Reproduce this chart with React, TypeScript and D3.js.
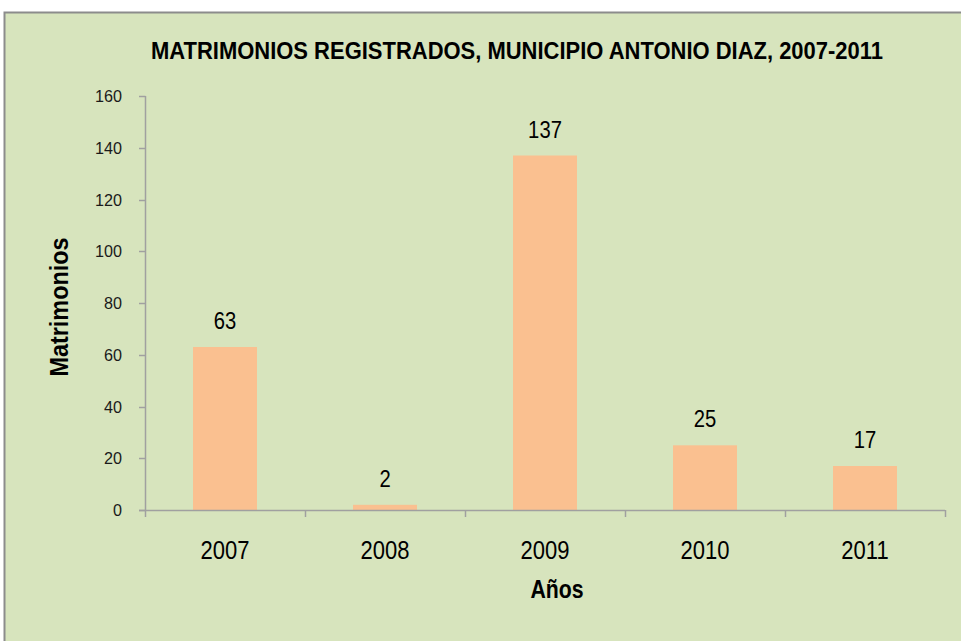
import React, { useEffect, useRef } from 'react'
import * as d3 from 'd3'

const years = ['2007', '2008', '2009', '2010', '2011']
const matrimonios = [63, 2, 137, 25, 17]
const yTicks = [0, 20, 40, 60, 80, 100, 120, 140, 160]

const title = 'MATRIMONIOS REGISTRADOS, MUNICIPIO ANTONIO DIAZ, 2007-2011'
const font = '"Liberation Sans", Arial, sans-serif'

const W = 961
const H = 641

// condensed text: squeeze horizontally like Arial Narrow
function label (parent: any, x: number, y: number, txt: string | number, size: number, sx: number, opts: any = {}) {
  const g = parent.append('g')
    .attr('transform', 'translate(' + x + ',' + y + ')' + (opts.rotate ? ' rotate(' + opts.rotate + ')' : '') + ' scale(' + sx + ',1)')
  return g.append('text')
    .attr('text-anchor', opts.anchor || 'middle')
    .attr('dy', opts.dy || null)
    .attr('font-family', font)
    .attr('font-weight', opts.bold ? 'bold' : 'normal')
    .attr('font-size', size)
    .attr('fill', opts.fill || '#000')
    .text(txt)
}

export default function App () {
  const ref = useRef<SVGSVGElement>(null)

  useEffect(() => {
    const svg = d3.select(ref.current)
    svg.selectAll('*').remove()

    svg.append('rect')
      .attr('x', 4.5).attr('y', 12.5)
      .attr('width', 980).attr('height', 660)
      .attr('fill', '#d7e4bd')
      .attr('stroke', '#8c8c8c')
      .attr('stroke-width', 2)

    svg.append('text')
      .attr('x', 517).attr('y', 59)
      .attr('text-anchor', 'middle')
      .attr('font-family', font)
      .attr('font-weight', 'bold')
      .attr('font-size', 24)
      .attr('textLength', 732)
      .attr('lengthAdjust', 'spacingAndGlyphs')
      .text(title)

    const x = d3.scaleBand().domain(years).range([145, 945]).padding(0)
    const y = d3.scaleLinear().domain([0, 160]).range([510, 96])

    const g = svg.append('g')
    const barW = x.bandwidth() * 0.4
    g.selectAll('.bar')
      .data(matrimonios)
      .enter().append('rect')
      .attr('class', 'bar')
      .attr('x', (d, i) => x(years[i])! + (x.bandwidth() - barW) / 2)
      .attr('y', d => y(d))
      .attr('width', barW)
      .attr('height', d => y(0) - y(d))
      .attr('fill', '#fac090')

    matrimonios.forEach((v, i) => {
      label(g, x(years[i])! + x.bandwidth() / 2, y(v) - 18, v, 23, 0.88)
    })

    const axisColor = '#a0a0a0'
    g.append('line')
      .attr('x1', 145.5).attr('x2', 145.5)
      .attr('y1', y(160)).attr('y2', y(0))
      .attr('stroke', axisColor).attr('stroke-width', 1.5)
    g.selectAll('.ytick')
      .data(yTicks)
      .enter().append('line')
      .attr('x1', 139).attr('x2', 145.5)
      .attr('y1', d => Math.round(y(d)) + 0.5)
      .attr('y2', d => Math.round(y(d)) + 0.5)
      .attr('stroke', axisColor).attr('stroke-width', 1.5)
    yTicks.forEach(t => {
      label(g, 122, y(t), t, 17, 0.95, { anchor: 'end', dy: '0.36em', fill: '#1a1a1a' })
    })

    g.append('line')
      .attr('x1', 139).attr('x2', 945)
      .attr('y1', 510.5).attr('y2', 510.5)
      .attr('stroke', axisColor).attr('stroke-width', 1.5)
    const bounds = years.map(yr => x(yr)!).concat([945])
    g.selectAll('.xtick')
      .data(bounds)
      .enter().append('line')
      .attr('x1', d => d + 0.5).attr('x2', d => d + 0.5)
      .attr('y1', 510).attr('y2', 517)
      .attr('stroke', axisColor).attr('stroke-width', 1.5)
    years.forEach(yr => {
      label(g, x(yr)! + x.bandwidth() / 2, 559, yr, 25, 0.88)
    })

    label(svg, 557, 598, 'Años', 25, 0.85, { bold: true })
    label(svg, 68, 307, 'Matrimonios', 26, 0.9, { bold: true, rotate: -90 })
  }, [])

  return (
    <svg ref={ref} width={W} height={H}
      style={{ position: 'absolute', left: 0, top: 0, background: '#fff' }} />
  )
}
